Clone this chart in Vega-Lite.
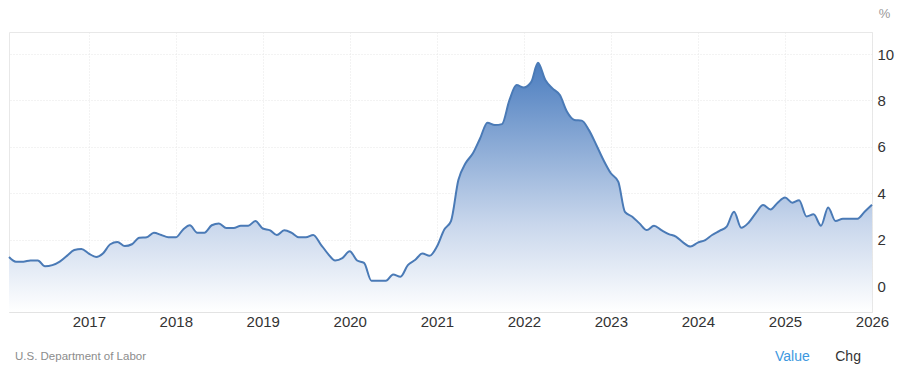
{
  "$schema": "https://vega.github.io/schema/vega-lite/v6.json",
  "width": 863,
  "height": 280,
  "autosize": {"type": "none"},
  "padding": {"left": 9, "top": 32, "right": 28, "bottom": 57},
  "background": "#ffffff",
  "config": {
    "font": "Liberation Sans",
    "view": {"stroke": "#e8e8e8", "strokeWidth": 1}
  },
  "data": {
    "values": [
      {"date": "2016-02-01", "value": 1.25},
      {"date": "2016-03-01", "value": 1.05},
      {"date": "2016-04-01", "value": 1.05},
      {"date": "2016-05-01", "value": 1.1},
      {"date": "2016-06-01", "value": 1.1},
      {"date": "2016-07-01", "value": 0.85},
      {"date": "2016-08-01", "value": 0.9},
      {"date": "2016-09-01", "value": 1.05},
      {"date": "2016-10-01", "value": 1.3},
      {"date": "2016-11-01", "value": 1.55},
      {"date": "2016-12-01", "value": 1.6},
      {"date": "2017-01-01", "value": 1.4},
      {"date": "2017-02-01", "value": 1.25},
      {"date": "2017-03-01", "value": 1.4},
      {"date": "2017-04-01", "value": 1.8},
      {"date": "2017-05-01", "value": 1.9},
      {"date": "2017-06-01", "value": 1.72},
      {"date": "2017-07-01", "value": 1.8},
      {"date": "2017-08-01", "value": 2.08},
      {"date": "2017-09-01", "value": 2.1},
      {"date": "2017-10-01", "value": 2.3},
      {"date": "2017-11-01", "value": 2.2},
      {"date": "2017-12-01", "value": 2.1},
      {"date": "2018-01-01", "value": 2.1},
      {"date": "2018-02-01", "value": 2.44},
      {"date": "2018-03-01", "value": 2.62},
      {"date": "2018-04-01", "value": 2.3},
      {"date": "2018-05-01", "value": 2.3},
      {"date": "2018-06-01", "value": 2.62},
      {"date": "2018-07-01", "value": 2.7},
      {"date": "2018-08-01", "value": 2.5},
      {"date": "2018-09-01", "value": 2.5},
      {"date": "2018-10-01", "value": 2.6},
      {"date": "2018-11-01", "value": 2.6},
      {"date": "2018-12-01", "value": 2.8},
      {"date": "2019-01-01", "value": 2.48},
      {"date": "2019-02-01", "value": 2.4},
      {"date": "2019-03-01", "value": 2.2},
      {"date": "2019-04-01", "value": 2.4},
      {"date": "2019-05-01", "value": 2.3},
      {"date": "2019-06-01", "value": 2.1},
      {"date": "2019-07-01", "value": 2.1},
      {"date": "2019-08-01", "value": 2.2},
      {"date": "2019-09-01", "value": 1.8},
      {"date": "2019-10-01", "value": 1.4},
      {"date": "2019-11-01", "value": 1.1},
      {"date": "2019-12-01", "value": 1.2},
      {"date": "2020-01-01", "value": 1.5},
      {"date": "2020-02-01", "value": 1.1},
      {"date": "2020-03-01", "value": 1.0},
      {"date": "2020-04-01", "value": 0.23},
      {"date": "2020-05-01", "value": 0.23},
      {"date": "2020-06-01", "value": 0.23},
      {"date": "2020-07-01", "value": 0.5},
      {"date": "2020-08-01", "value": 0.4},
      {"date": "2020-09-01", "value": 0.9},
      {"date": "2020-10-01", "value": 1.12},
      {"date": "2020-11-01", "value": 1.4},
      {"date": "2020-12-01", "value": 1.3},
      {"date": "2021-01-01", "value": 1.7},
      {"date": "2021-02-01", "value": 2.44},
      {"date": "2021-03-01", "value": 2.8},
      {"date": "2021-04-01", "value": 4.57},
      {"date": "2021-05-01", "value": 5.29},
      {"date": "2021-06-01", "value": 5.72},
      {"date": "2021-07-01", "value": 6.36},
      {"date": "2021-08-01", "value": 7.04},
      {"date": "2021-09-01", "value": 6.94},
      {"date": "2021-10-01", "value": 6.98},
      {"date": "2021-11-01", "value": 8.0},
      {"date": "2021-12-01", "value": 8.66},
      {"date": "2022-01-01", "value": 8.56},
      {"date": "2022-02-01", "value": 8.8},
      {"date": "2022-03-01", "value": 9.62},
      {"date": "2022-04-01", "value": 8.88},
      {"date": "2022-05-01", "value": 8.52},
      {"date": "2022-06-01", "value": 8.23},
      {"date": "2022-07-01", "value": 7.51},
      {"date": "2022-08-01", "value": 7.16},
      {"date": "2022-09-01", "value": 7.13},
      {"date": "2022-10-01", "value": 6.72},
      {"date": "2022-11-01", "value": 6.08},
      {"date": "2022-12-01", "value": 5.43},
      {"date": "2023-01-01", "value": 4.86},
      {"date": "2023-02-01", "value": 4.5},
      {"date": "2023-03-01", "value": 3.2},
      {"date": "2023-04-01", "value": 2.99},
      {"date": "2023-05-01", "value": 2.7},
      {"date": "2023-06-01", "value": 2.41},
      {"date": "2023-07-01", "value": 2.6},
      {"date": "2023-08-01", "value": 2.41},
      {"date": "2023-09-01", "value": 2.24},
      {"date": "2023-10-01", "value": 2.13},
      {"date": "2023-11-01", "value": 1.87},
      {"date": "2023-12-01", "value": 1.7},
      {"date": "2024-01-01", "value": 1.87},
      {"date": "2024-02-01", "value": 1.98},
      {"date": "2024-03-01", "value": 2.2},
      {"date": "2024-04-01", "value": 2.38},
      {"date": "2024-05-01", "value": 2.56},
      {"date": "2024-06-01", "value": 3.2},
      {"date": "2024-07-01", "value": 2.51},
      {"date": "2024-08-01", "value": 2.73},
      {"date": "2024-09-01", "value": 3.15},
      {"date": "2024-10-01", "value": 3.49},
      {"date": "2024-11-01", "value": 3.3},
      {"date": "2024-12-01", "value": 3.59},
      {"date": "2025-01-01", "value": 3.82},
      {"date": "2025-02-01", "value": 3.59},
      {"date": "2025-03-01", "value": 3.7},
      {"date": "2025-04-01", "value": 3.0},
      {"date": "2025-05-01", "value": 3.09},
      {"date": "2025-06-01", "value": 2.6},
      {"date": "2025-07-01", "value": 3.39},
      {"date": "2025-08-01", "value": 2.8},
      {"date": "2025-09-01", "value": 2.9},
      {"date": "2025-10-01", "value": 2.9},
      {"date": "2025-11-01", "value": 2.9},
      {"date": "2025-12-01", "value": 3.2},
      {"date": "2026-01-01", "value": 3.5}
    ]
  },
  "encoding": {
    "x": {
      "field": "date",
      "type": "temporal",
      "scale": {"type": "utc", "domain": ["2016-02-01", "2026-01-01"], "nice": false},
      "axis": {
        "title": null,
        "format": "%Y",
        "tickCount": {"interval": "year", "step": 1},
        "labelFontSize": 15,
        "labelColor": "#333333",
        "labelFont": "Liberation Sans",
        "labelPadding": 2,
        "labelOverlap": false,
        "labelFlush": false,
        "ticks": false,
        "domain": true,
        "domainColor": "#e3e3e3",
        "grid": true,
        "gridColor": "#e6e6e6",
        "gridDash": [1, 2]
      }
    },
    "y": {
      "field": "value",
      "type": "quantitative",
      "scale": {"domain": [-1.12, 10.95], "nice": false, "zero": false},
      "axis": {
        "orient": "right",
        "values": [0, 2, 4, 6, 8, 10],
        "title": "%",
        "titleAngle": 0,
        "titleX": 12,
        "titleY": -19,
        "titleAlign": "center",
        "titleBaseline": "middle",
        "titleFontSize": 13,
        "titleFontWeight": "normal",
        "titleColor": "#999999",
        "titleFont": "Liberation Sans",
        "labelFontSize": 15,
        "labelColor": "#333333",
        "labelFont": "Liberation Sans",
        "labelPadding": 5,
        "ticks": false,
        "domain": false,
        "grid": true,
        "gridColor": "#e6e6e6",
        "gridDash": [1, 2]
      }
    }
  },
  "layer": [
    {
      "mark": {
        "type": "area",
        "interpolate": "monotone",
        "fill": {
          "gradient": "linear",
          "x1": 0, "y1": 1, "x2": 0, "y2": 0,
          "stops": [
            {"offset": 0, "color": "#ffffff"},
            {"offset": 0.35, "color": "#c9d7ec"},
            {"offset": 1, "color": "#4b7dbf"}
          ]
        }
      },
      "encoding": {
        "y2": {"datum": -1.12}
      }
    },
    {
      "mark": {
        "type": "line",
        "interpolate": "monotone",
        "stroke": "#4a7ab6",
        "strokeWidth": 2
      }
    },
    {
      "transform": [{"filter": "utcyear(datum.date) == 2016 && utcmonth(datum.date) == 1"}],
      "mark": {"type": "text", "text": "U.S. Department of Labor", "fontSize": 11.5, "color": "#8c8c8c", "font": "Liberation Sans", "align": "left", "baseline": "middle", "dx": 6},
      "encoding": {
        "y": {"datum": -3.08, "type": "quantitative"}
      }
    },
    {
      "transform": [{"filter": "utcyear(datum.date) == 2025 && utcmonth(datum.date) == 1"}],
      "mark": {"type": "text", "text": "Value", "fontSize": 14, "color": "#3d98e0", "font": "Liberation Sans", "align": "center", "baseline": "middle"},
      "encoding": {
        "y": {"datum": -3.08, "type": "quantitative"}
      }
    },
    {
      "transform": [{"filter": "utcyear(datum.date) == 2025 && utcmonth(datum.date) == 9"}],
      "mark": {"type": "text", "text": "Chg", "fontSize": 14, "color": "#333333", "font": "Liberation Sans", "align": "center", "baseline": "middle", "dx": -2},
      "encoding": {
        "y": {"datum": -3.08, "type": "quantitative"}
      }
    }
  ]
}
